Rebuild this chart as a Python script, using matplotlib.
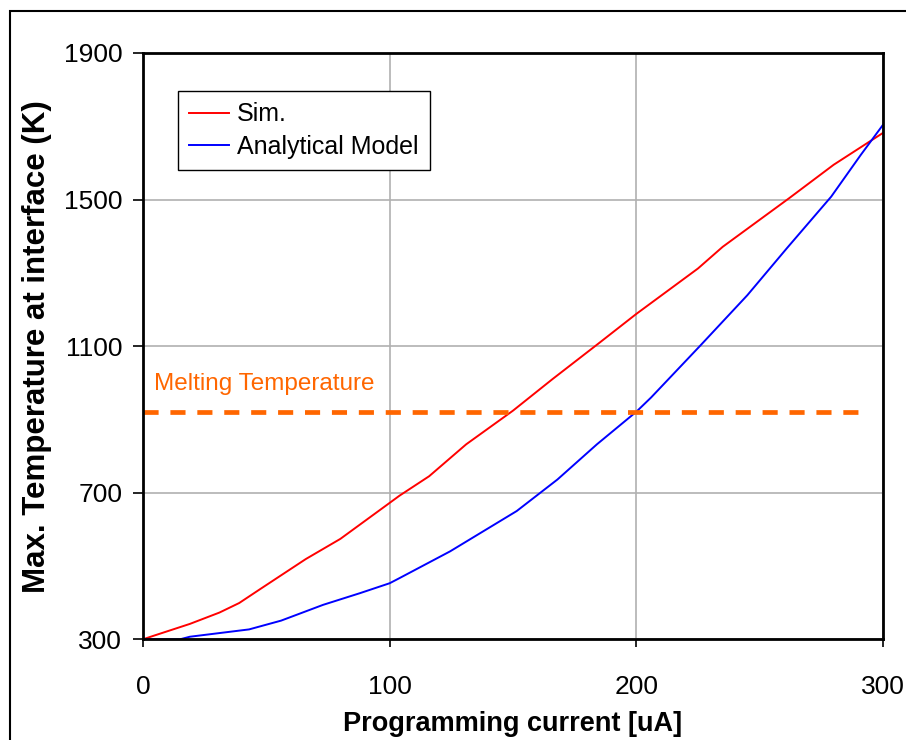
import numpy as np
import matplotlib
matplotlib.use('Agg')
import matplotlib.pyplot as plt
from matplotlib.patches import Rectangle

# values
sim_current=[0, 4, 19, 31, 39, 47.5, 66, 80, 97.5, 104, 116, 131, 150, 166, 185, 200, 225, 235, 262, 280, 300]
sim_temp=[300, 309, 342, 373, 399, 437, 519, 574, 660, 692, 745, 832, 924, 1010, 1109, 1188, 1312, 1371, 1504, 1595, 1682]

model_current=[0, 15, 19, 43, 56, 73, 88, 100, 104, 124.5, 151.5, 168, 184, 200, 206, 226, 245, 261, 279, 291, 300]
model_temp=[300, 300, 307, 327, 351, 394, 426, 453, 467, 540, 650, 736, 832, 921, 960, 1102, 1239, 1367, 1508, 1622, 1704]

melt_temp=920
melt_range=[0, 294]

x_ticks=[0, 100, 200, 300]
y_ticks=[300, 700, 1100, 1500, 1900]

plt.rcParams['font.family']=['Liberation Sans', 'DejaVu Sans']

fig=plt.figure(figsize=(9.06,7.4),dpi=100)
fig.patches.append(Rectangle((10/906.0,-0.1),1.2,1-11/740.0+0.1,transform=fig.transFigure,
	fill=False,edgecolor='black',linewidth=1.5))
ax=fig.add_axes([143/906.0,1-639.3/740.0,740/906.0,586.3/740.0])

ax.plot(sim_current,sim_temp,color='#ff0000',linewidth=1.4,label='Sim.')
ax.plot(model_current,model_temp,color='#0000ff',linewidth=1.4,label='Analytical Model')
ax.plot(melt_range,[melt_temp,melt_temp],color='#ff6600',linewidth=3.4,dashes=(3.2,2.5))
ax.text(4.5,997,'Melting Temperature',color='#ff6600',fontsize=17.5,va='center',ha='left')

ax.set_xlim(0,300)
ax.set_ylim(300,1900)
ax.set_xticks(x_ticks)
ax.set_yticks(y_ticks)
ax.grid(True,color='#b0b0b0',linewidth=1.2)
ax.set_axisbelow(True)
for side in ['top','right','bottom','left']:
	ax.spines[side].set_linewidth(2)
	ax.spines[side].set_color('black')
ax.tick_params(axis='x',direction='out',length=6,width=1.2,pad=20,labelsize=19)
ax.tick_params(axis='y',direction='out',length=7,width=1.2,pad=8,labelsize=19)

ax.set_xlabel('Programming current [uA]',fontsize=19.5,fontweight='bold',labelpad=8)
ax.set_ylabel('Max. Temperature at interface (K)',fontsize=22.5,fontweight='bold',labelpad=8)

leg=ax.legend(loc='upper left',bbox_to_anchor=(35/740.0,(639.3-91)/586.3),borderaxespad=0,
	fontsize=18,fancybox=False,framealpha=1,edgecolor='black',handlelength=1.6,handletextpad=0.3,
	labelspacing=0.35,borderpad=0.45)
leg.get_frame().set_linewidth(1.0)

plt.savefig('out.png',dpi=100)
plt.close()
